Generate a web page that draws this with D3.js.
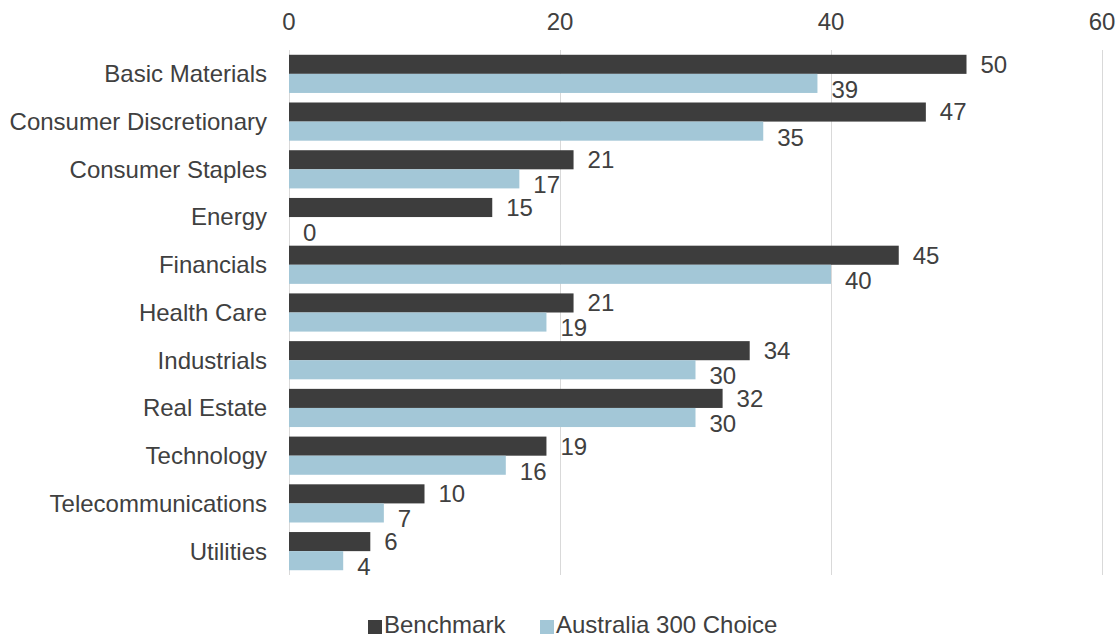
<!DOCTYPE html>
<html>
<head>
<meta charset="utf-8">
<script src="https://cdn.jsdelivr.net/npm/d3@7"></script>
<style>
    body { margin: 0; background: #fff; }
    text { font-family: "Liberation Sans", Arial, sans-serif; fill: #404040; }
</style>
</head>
<body>
<svg id="chart"></svg>
<script>
// sectors, top to bottom
const categories = ['Basic Materials', 'Consumer Discretionary', 'Consumer Staples', 'Energy',
    'Financials', 'Health Care', 'Industrials', 'Real Estate', 'Technology',
    'Telecommunications', 'Utilities'];
const seriesNames = ['Benchmark', 'Australia 300 Choice'];
const benchmark = [50, 47, 21, 15, 45, 21, 34, 32, 19, 10, 6];
const choice = [39, 35, 17, 0, 40, 19, 30, 30, 16, 7, 4];
const xTicks = [0, 20, 40, 60];

const config = {
    width: 1117,
    height: 638,
    margin: {top: 50, right: 15, bottom: 63, left: 289},
    colors: ['#3d3d3d', '#a3c7d7'],
    fontSize: 24
};

const innerW = 1102 - config.margin.left;
const innerH = config.height - config.margin.top - config.margin.bottom;

const svg = d3.select('#chart')
    .attr('width', config.width)
    .attr('height', config.height);

const chart = svg.append('g')
    .attr('transform', `translate(${config.margin.left},${config.margin.top})`);

const xScale = d3.scaleLinear()
    .domain([0, 60])
    .range([0, innerW]);

const yScale = d3.scaleBand()
    .domain(categories)
    .range([0, innerH])
    .paddingInner(0.2)
    .paddingOuter(0.1);

const subScale = d3.scaleBand()
    .domain(seriesNames)
    .range([0, yScale.bandwidth()]);

// gridlines
chart.selectAll('.grid')
    .data(xTicks)
    .join('line')
    .attr('class', 'grid')
    .attr('x1', d => Math.round(xScale(d)) + 0.5)
    .attr('x2', d => Math.round(xScale(d)) + 0.5)
    .attr('y1', 0)
    .attr('y2', innerH)
    .attr('stroke', '#d9d9d9')
    .attr('stroke-width', 1);

// top axis labels
chart.selectAll('.tick-label')
    .data(xTicks)
    .join('text')
    .attr('class', 'tick-label')
    .attr('x', d => xScale(d))
    .attr('y', -20)
    .attr('text-anchor', 'middle')
    .style('font-size', config.fontSize + 'px')
    .text(d => d);

// category labels
chart.selectAll('.cat-label')
    .data(categories)
    .join('text')
    .attr('class', 'cat-label')
    .attr('x', -22)
    .attr('y', d => yScale(d) + yScale.bandwidth() / 2)
    .attr('dy', '0.35em')
    .attr('text-anchor', 'end')
    .style('font-size', config.fontSize + 'px')
    .text(d => d);

const rows = categories.map((c, i) => ({
    category: c,
    values: [
        {series: seriesNames[0], value: benchmark[i]},
        {series: seriesNames[1], value: choice[i]}
    ]
}));

const groups = chart.selectAll('.group')
    .data(rows)
    .join('g')
    .attr('class', 'group')
    .attr('transform', d => `translate(0,${yScale(d.category)})`);

groups.selectAll('rect')
    .data(d => d.values)
    .join('rect')
    .attr('x', xScale(0))
    .attr('y', d => subScale(d.series))
    .attr('width', d => xScale(d.value) - xScale(0))
    .attr('height', subScale.bandwidth())
    .attr('fill', (d, i) => config.colors[i]);

groups.selectAll('.value-label')
    .data(d => d.values)
    .join('text')
    .attr('class', 'value-label')
    .attr('x', d => xScale(d.value) + 14)
    .attr('y', (d, i) => subScale(d.series) + subScale.bandwidth() / 2 + (i === 1 ? 6 : 0))
    .attr('dy', '0.35em')
    .style('font-size', config.fontSize + 'px')
    .text(d => d.value);

// legend
const legendItems = [
    {name: seriesNames[0], x: 368},
    {name: seriesNames[1], x: 540}
];
const legend = svg.selectAll('.legend')
    .data(legendItems)
    .join('g')
    .attr('class', 'legend')
    .attr('transform', d => `translate(${d.x},620)`);

legend.append('rect')
    .attr('width', 14)
    .attr('height', 14)
    .attr('fill', (d, i) => config.colors[i]);

legend.append('text')
    .attr('x', 16)
    .attr('y', 13)
    .style('font-size', config.fontSize + 'px')
    .text(d => d.name);
</script>
</body>
</html>
